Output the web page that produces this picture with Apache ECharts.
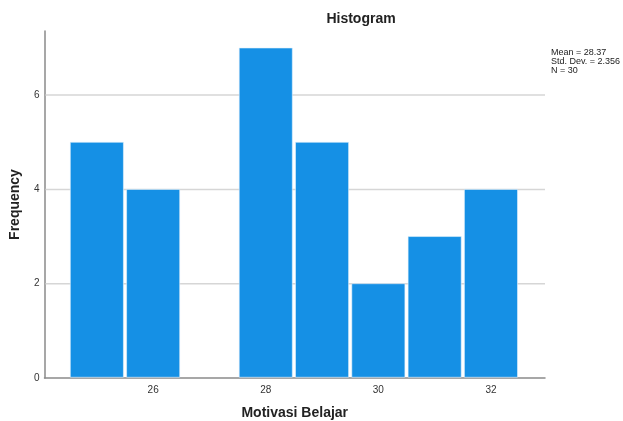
<!DOCTYPE html>
<html>
<head>
<meta charset="utf-8">
<script src="https://cdn.jsdelivr.net/npm/echarts@6/dist/echarts.min.js"></script>
<style>
html,body{margin:0;padding:0;background:#fff;}
#c{width:623px;height:421px;}
</style>
</head>
<body>
<div id="c"></div>
<script>
// Data
const binCenters = [25, 26, 27, 28, 29, 30, 31, 32];
const frequencies = [5, 4, 0, 7, 5, 2, 3, 4];
const binWidth = 1;
const xTickLabels = [26, 28, 30, 32];
const yTickLabels = [0, 2, 4, 6];
const gridLines = [2, 4, 6];
const statsLines = ['Mean = 28.37', 'Std. Dev. = 2.356', 'N = 30'];

const chart = echarts.init(document.getElementById('c'), null, {renderer: 'canvas'});

const barData = binCenters.map((c, i) => [c - binWidth / 2, c + binWidth / 2, frequencies[i]]);

const option = {
  backgroundColor: '#ffffff',
  animation: false,
  grid: {left: 44.5, right: 78, top: 31, bottom: 43, outerBoundsMode: 'none', containLabel: false},
  xAxis: {
    type: 'value',
    min: 24.07,
    max: 32.96,
    name: 'Motivasi Belajar',
    nameLocation: 'middle',
    nameGap: 28,
    nameTextStyle: {fontFamily: 'Liberation Sans, Arial', fontWeight: 'bold', fontSize: 14, color: '#222'},
    axisLine: {show: true, lineStyle: {color: '#8a8a8a', width: 1.5}},
    axisTick: {show: false},
    splitLine: {show: false},
    axisLabel: {
      customValues: xTickLabels,
      fontFamily: 'Liberation Sans, Arial', fontSize: 10, color: '#333', margin: 7
    }
  },
  yAxis: {
    type: 'value',
    min: 0,
    max: 7.36,
    name: 'Frequency',
    nameLocation: 'middle',
    nameGap: 22,
    nameRotate: 90,
    nameTextStyle: {fontFamily: 'Liberation Sans, Arial', fontWeight: 'bold', fontSize: 14, color: '#222'},
    axisLine: {show: true, lineStyle: {color: '#8a8a8a', width: 1.5}},
    axisTick: {show: false},
    splitLine: {show: false},
    axisLabel: {
      customValues: yTickLabels,
      fontFamily: 'Liberation Sans, Arial', fontSize: 10, color: '#333', margin: 5
    }
  },
  graphic: [
    {
      type: 'text', z: 10,
      position: [361, 19],
      style: {
        text: 'Histogram',
        font: 'bold 14px "Liberation Sans", Arial', fill: '#222',
        textAlign: 'center', textVerticalAlign: 'middle'
      }
    },
    {
      type: 'text', z: 10,
      position: [551, 48],
      style: {
        text: statsLines.join('\n'),
        font: '9px "Liberation Sans", Arial', fill: '#222',
        lineHeight: 9, textAlign: 'left', textVerticalAlign: 'top'
      }
    }
  ],
  series: [
    {
      type: 'custom',
      z: 1,
      silent: true,
      data: gridLines.map(v => [v]),
      renderItem: function (params, api) {
        const cs = params.coordSys;
        const y = api.coord([24.07, api.value(0)])[1];
        return {
          type: 'line',
          shape: {x1: cs.x + 1, y1: y, x2: cs.x + cs.width, y2: y},
          style: {stroke: '#d6d6d6', lineWidth: 1.5}
        };
      }
    },
    {
      type: 'custom',
      z: 2,
      data: barData,
      renderItem: function (params, api) {
        const x0 = api.value(0), x1 = api.value(1), h = api.value(2);
        if (h <= 0) return null;
        const p0 = api.coord([x0, h]);
        const p1 = api.coord([x1, 0]);
        const inset = 1.6;
        return {
          type: 'rect',
          shape: {x: p0[0] + inset, y: p0[1], width: p1[0] - p0[0] - 2 * inset, height: p1[1] - p0[1] - 0.75},
          style: {fill: '#1590e5', stroke: '#e4f1fb', lineWidth: 0.6}
        };
      }
    }
  ]
};
chart.setOption(option);
</script>
</body>
</html>
